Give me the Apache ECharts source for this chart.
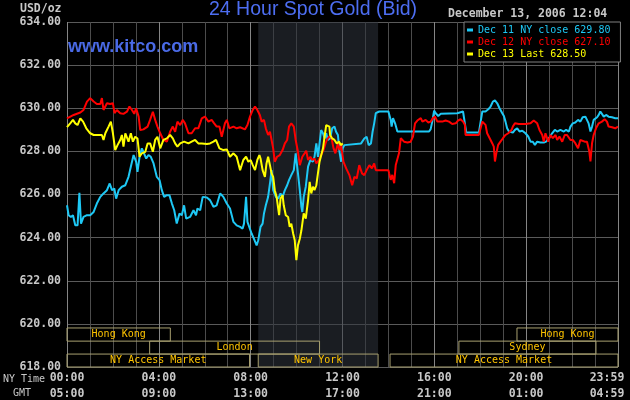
<!DOCTYPE html>
<html>
<head>
<meta charset="utf-8">
<script src="https://cdn.jsdelivr.net/npm/echarts@6/dist/echarts.min.js"></script>
<style>
html, body { margin: 0; padding: 0; background: #000; }
#main { width: 630px; height: 400px; }
</style>
</head>
<body>
<div id="main"></div>
<script>
// series names as shown in the legend box
var seriesNames = ['Dec 11 NY close 629.80', 'Dec 12 NY close 627.10', 'Dec 13 Last 628.50'];
var seriesColors = ['#1ec8f5', '#ff0000', '#ffff00'];

// [NY hour, price]
var dec11 = [[0.00,625.50],[0.07,625.04],[0.17,624.96],[0.26,625.04],[0.36,624.57],[0.46,624.57],[0.54,626.08],[0.61,624.65],[0.65,624.57],[0.72,624.96],[0.87,625.04],[1.01,625.04],[1.16,625.19],[1.30,625.58],[1.45,625.89],[1.59,626.05],[1.74,626.20],[1.86,626.51],[1.96,626.20],[2.06,626.28],[2.14,625.81],[2.25,626.20],[2.39,626.36],[2.54,626.43],[2.68,626.82],[2.78,627.29],[2.90,627.83],[3.01,627.52],[3.07,627.05],[3.16,627.75],[3.26,628.14],[3.33,628.06],[3.45,627.67],[3.55,627.83],[3.65,627.75],[3.77,627.44],[3.91,626.82],[4.03,626.67],[4.13,626.20],[4.23,625.89],[4.35,625.97],[4.46,625.97],[4.57,625.58],[4.67,625.27],[4.78,624.65],[4.90,625.12],[5.00,625.04],[5.10,625.50],[5.19,624.88],[5.36,624.96],[5.51,625.27],[5.62,625.04],[5.68,625.35],[5.80,625.27],[5.91,625.89],[6.09,625.86],[6.23,625.74],[6.38,625.43],[6.52,625.50],[6.67,626.05],[6.81,625.89],[6.96,625.58],[7.10,625.35],[7.25,624.73],[7.39,624.57],
  [7.54,624.50],[7.65,624.42],[7.71,624.65],[7.80,625.89],[7.86,624.73],[7.94,624.65],[8.04,624.19],[8.14,623.95],[8.26,623.64],[8.33,623.88],[8.43,624.50],[8.52,624.65],[8.58,625.12],[8.66,625.50],[8.76,625.89],[8.84,626.51],[8.91,627.13],[8.98,626.20],[9.10,625.89],[9.20,625.81],[9.30,626.05],[9.39,625.89],[9.49,626.20],[9.59,626.43],[9.67,626.67],[9.77,626.90],[9.88,627.13],[9.96,627.91],[10.06,626.98],[10.14,626.20],[10.21,625.43],[10.25,625.19],[10.31,625.89],[10.40,626.36],[10.50,627.29],[10.60,627.60],[10.71,627.52],[10.78,627.75],[10.86,628.37],[10.93,627.75],[11.00,627.67],[11.07,628.99],[11.15,628.84],[11.22,628.60],[11.29,628.84],[11.36,628.53],[11.46,628.60],[11.55,629.07],[11.65,629.15],[11.72,628.91],[11.80,628.76],[11.87,627.98],[11.94,627.52],[12.01,628.14],[12.08,628.29],[12.16,628.37],[12.81,628.37],[12.95,628.60],[13.05,628.68],[13.14,628.29],[13.24,628.37],[13.31,628.91],[13.38,629.30],[13.45,629.77],[13.60,629.85],[14.00,629.85],
  [14.10,629.46],[14.14,629.15],[14.20,629.54],[14.29,629.30],[14.39,628.92],[15.77,628.92],[15.84,629.03],[15.91,629.38],[15.99,629.89],[16.06,629.77],[16.17,629.64],[16.28,629.74],[17.00,629.77],[17.07,629.85],[17.25,629.85],[17.33,629.30],[17.39,628.87],[17.94,628.87],[18.01,628.92],[18.09,629.85],[18.23,629.85],[18.35,629.95],[18.45,630.08],[18.55,630.31],[18.64,630.36],[18.74,630.23],[18.84,630.00],[18.96,629.77],[19.03,629.64],[19.10,629.38],[19.17,629.07],[19.25,628.92],[19.32,629.00],[19.42,628.87],[19.51,629.00],[19.61,629.07],[19.71,628.92],[19.83,628.96],[19.97,628.84],[20.09,628.69],[20.19,628.45],[20.29,628.45],[20.38,628.30],[20.48,628.45],[20.62,628.41],[20.77,628.41],[20.87,628.45],[20.99,628.61],[21.13,628.84],[21.25,629.00],[21.35,628.92],[21.49,629.00],[21.64,628.92],[21.74,629.00],[21.86,628.92],[21.93,629.15],[22.03,629.30],[22.14,629.34],[22.26,629.46],[22.36,629.38],[22.46,629.58],[22.58,629.61],[22.65,629.61],[22.72,629.30],[22.80,628.92],[22.87,629.15],[22.94,629.46],[23.09,629.58],[23.16,629.69],[23.23,629.85],[23.30,629.77],[23.38,629.61],[23.48,629.69],[23.59,629.61],[23.74,629.58],[23.88,629.54],[24.00,629.54]];

var dec12 = [[0.00,629.53],[0.29,629.69],[0.58,629.80],[0.72,629.92],[0.87,630.31],[1.01,630.47],[1.16,630.31],[1.30,630.20],[1.45,630.20],[1.52,630.47],[1.59,629.92],[1.67,629.84],[1.74,630.23],[1.88,630.20],[2.00,630.23],[2.07,629.77],[2.17,629.92],[2.32,629.77],[2.46,629.74],[2.61,629.84],[2.72,630.08],[2.83,629.92],[2.93,629.74],[3.01,630.00],[3.12,629.61],[3.19,628.99],[3.33,629.02],[3.51,629.15],[3.62,629.46],[3.74,629.84],[3.84,629.46],[3.94,629.15],[4.06,628.84],[4.20,628.53],[4.35,628.45],[4.42,628.68],[4.49,628.91],[4.61,629.15],[4.71,628.91],[4.81,629.38],[4.93,629.22],[5.04,629.46],[5.14,629.30],[5.29,628.84],[5.43,628.84],[5.58,629.07],[5.72,629.07],[5.87,629.53],[6.01,629.61],[6.16,629.38],[6.30,629.46],[6.41,629.30],[6.52,629.15],[6.64,629.15],[6.74,628.68],[6.88,629.30],[6.96,629.46],[7.07,629.07],[7.25,629.15],[7.39,629.07],
  [7.54,629.12],[7.75,629.02],[7.86,629.22],[7.97,629.61],[8.09,629.92],[8.19,630.08],[8.29,629.92],[8.40,629.69],[8.48,629.38],[8.58,629.46],[8.66,629.07],[8.76,628.76],[8.84,628.91],[8.91,628.53],[8.98,628.14],[9.05,627.52],[9.15,627.75],[9.27,627.83],[9.39,628.06],[9.49,628.37],[9.59,628.53],[9.67,629.15],[9.77,629.30],[9.88,629.15],[9.96,628.53],[10.06,627.98],[10.14,627.36],[10.25,627.75],[10.35,627.91],[10.42,628.03],[10.50,627.60],[10.60,627.75],[10.68,627.60],[10.78,627.67],[10.86,627.44],[10.97,627.60],[11.07,627.83],[11.17,628.06],[11.26,628.37],[11.32,628.53],[11.41,628.68],[11.51,628.68],[11.61,628.14],[11.69,627.91],[11.80,628.37],[11.87,628.06],[11.94,628.29],[12.04,627.52],[12.16,627.21],[12.30,626.90],[12.42,626.43],[12.52,626.82],[12.62,626.74],[12.73,627.36],[12.85,626.98],[12.95,626.90],[13.05,627.13],[13.17,627.36],[13.28,627.21],[13.38,627.44],[13.45,627.13],[13.60,627.13],[13.89,627.13],[14.00,627.13],
  [14.03,626.99],[14.10,626.68],[14.17,626.91],[14.25,626.52],[14.32,627.37],[14.39,627.30],[14.46,627.91],[14.54,628.61],[14.61,628.69],[14.68,628.45],[14.83,628.41],[14.97,628.45],[15.07,628.69],[15.16,629.30],[15.26,629.43],[15.41,629.54],[15.48,629.38],[15.62,629.46],[15.74,629.34],[15.84,629.38],[15.94,629.54],[16.03,629.61],[16.13,629.38],[16.35,629.38],[16.49,629.43],[16.64,629.38],[16.78,629.27],[16.93,629.30],[17.03,629.43],[17.14,629.49],[17.25,629.38],[17.33,629.23],[17.36,628.76],[17.65,628.76],[17.94,628.76],[18.01,628.84],[18.09,629.38],[18.16,629.46],[18.23,629.23],[18.30,628.84],[18.38,628.76],[18.45,628.53],[18.52,628.38],[18.59,628.22],[18.64,627.53],[18.70,627.91],[18.78,628.30],[18.88,628.45],[18.99,628.61],[19.10,628.76],[19.22,628.84],[19.36,628.99],[19.42,629.15],[19.51,629.30],[19.68,629.27],[19.97,629.27],[20.19,629.30],[20.33,629.43],[20.41,629.46],[20.48,629.30],[20.58,628.99],[20.70,628.76],[20.77,628.45],[20.84,628.84],[20.96,628.45],[21.06,628.76],[21.16,628.61],[21.28,628.76],[21.35,628.53],[21.45,628.69],[21.57,628.45],[21.68,628.76],[21.78,628.76],[21.93,628.53],[22.03,628.53],[22.14,628.38],[22.26,628.15],[22.36,628.53],[22.43,628.61],[22.55,628.45],[22.65,628.45],[22.75,627.99],[22.80,627.53],[22.87,628.38],[22.94,628.76],[23.04,629.07],[23.16,629.30],[23.30,629.38],[23.42,629.49],[23.52,629.38],[23.59,629.15],[23.74,629.12],[23.88,629.07],[24.00,629.15]];

var dec13 = [[0.00,629.12],[0.14,629.30],[0.26,629.46],[0.36,629.30],[0.46,629.22],[0.58,629.53],[0.70,629.38],[0.84,629.07],[1.01,628.84],[1.16,628.76],[1.38,628.76],[1.52,628.76],[1.59,628.53],[1.67,628.84],[1.81,629.15],[1.91,629.38],[2.00,628.84],[2.10,628.06],[2.20,628.29],[2.32,628.53],[2.39,628.76],[2.46,628.22],[2.54,628.84],[2.61,628.91],[2.68,628.45],[2.78,628.84],[2.87,628.45],[2.97,628.68],[3.07,628.60],[3.16,627.75],[3.26,627.91],[3.41,627.98],[3.51,628.37],[3.62,628.37],[3.74,627.98],[3.84,628.53],[3.94,628.68],[4.06,628.14],[4.20,628.53],[4.35,628.60],[4.49,628.76],[4.61,628.60],[4.71,628.37],[4.81,628.22],[4.93,628.37],[5.10,628.45],[5.29,628.37],[5.43,628.45],[5.58,628.53],[5.72,628.37],[5.87,628.37],[6.09,628.34],[6.23,628.37],[6.38,628.45],[6.49,628.53],[6.64,628.14],[6.81,628.06],[6.96,628.09],[7.10,627.75],[7.25,627.91],[7.39,627.75],
  [7.54,627.13],[7.68,627.60],[7.80,627.75],[7.90,627.52],[8.00,627.60],[8.09,627.36],[8.19,627.13],[8.29,627.60],[8.38,627.83],[8.43,627.67],[8.52,627.13],[8.62,626.82],[8.69,627.44],[8.76,627.75],[8.84,627.36],[8.91,626.98],[8.98,626.82],[9.05,626.20],[9.13,625.89],[9.20,625.35],[9.24,625.04],[9.30,625.81],[9.39,625.97],[9.44,625.50],[9.53,625.04],[9.63,624.96],[9.70,624.50],[9.77,624.65],[9.85,624.19],[9.92,623.88],[9.99,622.95],[10.06,623.64],[10.14,623.95],[10.21,624.34],[10.25,624.65],[10.31,625.12],[10.40,624.88],[10.50,625.74],[10.57,626.59],[10.64,626.05],[10.71,626.36],[10.78,626.20],[10.86,626.43],[10.93,626.98],[11.00,627.52],[11.07,627.44],[11.15,628.14],[11.22,628.68],[11.29,629.22],[11.36,629.30],[11.43,629.15],[11.46,628.76],[11.55,628.60],[11.65,628.53],[11.75,628.37],[11.84,628.45],[11.94,628.29],[12.01,628.37]];

// trading sessions (NY hours) shown in the bottom strip
var sessionNames = ['Hong Kong', 'London', 'NY Access Market', 'New York', 'NY Access Market', 'Sydney', 'Hong Kong'];
var sessionStart = [0, 3.6, 0, 8.33, 14.07, 17.07, 19.6];
var sessionEnd = [4.5, 11.0, 7.95, 13.55, 24, 23.04, 24];
var sessionRow = [0, 1, 2, 2, 2, 1, 0];
var rowTop = [619.81, 619.2, 618.6];
var rowBottom = [619.2, 618.6, 618.0];

var nySession = [8.33, 13.55];

var mono = 'DejaVu Sans Mono';
var gray = '#c8c8c8';

function hh(n) {
    return (n < 10 ? '0' : '') + n + ':00';
}

var chart = echarts.init(document.getElementById('main'));

var boxes = sessionNames.map(function (name, i) {
    return [
        { name: name, xAxis: sessionStart[i], yAxis: rowTop[sessionRow[i]] },
        { xAxis: sessionEnd[i], yAxis: rowBottom[sessionRow[i]] }
    ];
});

var lines = [dec11, dec12, dec13].map(function (d, i) {
    return {
        name: seriesNames[i],
        type: 'line',
        data: d,
        showSymbol: false,
        symbol: 'none',
        z: 2,
        lineStyle: { color: seriesColors[i], width: 2 },
        itemStyle: { color: seriesColors[i] }
    };
});

var option = {
    backgroundColor: '#000',
    animation: false,
    title: {
        text: '24 Hour Spot Gold (Bid)',
        left: 209,
        top: 0,
        padding: 0,
        textStyle: { color: '#4d6ef2', fontFamily: 'Liberation Sans', fontSize: 19.5, fontWeight: 'normal' }
    },
    legend: {
        orient: 'vertical',
        left: 464,
        top: 22,
        padding: [2, 10, 2, 3],
        itemGap: 0,
        itemWidth: 6,
        itemHeight: 3,
        icon: 'rect',
        backgroundColor: '#000',
        borderColor: '#808080',
        borderWidth: 1,
        selectedMode: false,
        data: seriesNames.map(function (n, i) {
            return { name: n, textStyle: { color: seriesColors[i] } };
        }),
        textStyle: { fontFamily: mono, fontSize: 10, lineHeight: 12 }
    },
    grid: { left: 67, right: 12, top: 22, bottom: 33, containLabel: false, outerBoundsMode: 'none' },
    xAxis: {
        type: 'value',
        min: 0,
        max: 24,
        interval: 1,
        z: 1,
        axisLine: { show: false },
        axisTick: { show: false },
        splitLine: { lineStyle: { color: ['#858585', '#4c4c4c', '#4c4c4c', '#4c4c4c'], width: 1 } },
        axisLabel: {
            margin: 3,
            color: gray,
            fontFamily: mono,
            fontWeight: 'bold',
            fontSize: 11.5,
            lineHeight: 16,
            formatter: function (v) {
                if (v === 24) return '{last|23:59}\n{last|04:59}';
                if (v % 4) return '';
                return hh(v) + '\n' + hh((v + 5) % 24);
            },
            rich: {
                last: { padding: [0, 22, 0, 0], color: gray, fontFamily: mono, fontWeight: 'bold', fontSize: 11.5, lineHeight: 16 }
            }
        }
    },
    yAxis: {
        type: 'value',
        min: 618,
        max: 634,
        interval: 2,
        z: 1,
        axisLine: { show: false },
        axisTick: { show: false },
        splitLine: { lineStyle: { color: '#5a5a5a', width: 1 } },
        axisLabel: {
            margin: 6,
            color: gray,
            fontFamily: mono,
            fontWeight: 'bold',
            fontSize: 11.5,
            formatter: function (v) { return v.toFixed(2); }
        }
    },
    graphic: [
        { type: 'text', left: 20, top: 3, style: { text: 'USD/oz', fill: gray, font: 'bold 11.5px "DejaVu Sans Mono"' } },
        { type: 'text', left: 68, top: 38, style: { text: 'www.kitco.com', fill: '#4a6ae6', font: 'bold 18px "Liberation Sans"' } },
        { type: 'text', left: 448, top: 8, style: { text: 'December 13, 2006 12:04', fill: gray, font: 'bold 11.5px "DejaVu Sans Mono"' } },
        { type: 'text', left: 3, top: 374, style: { text: 'NY Time', fill: gray, font: '10px "DejaVu Sans Mono"' } },
        { type: 'text', left: 13, top: 388, style: { text: 'GMT', fill: gray, font: '10px "DejaVu Sans Mono"' } }
    ],
    series: [
        {
            name: 'ny-shade',
            type: 'line',
            data: [],
            z: 0,
            markArea: {
                silent: true,
                itemStyle: { color: 'rgba(48,52,62,0.55)' },
                data: [[{ xAxis: nySession[0], yAxis: 634 }, { xAxis: nySession[1], yAxis: 618 }]]
            }
        },
        lines[0],
        lines[1],
        lines[2],
        {
            name: 'sessions',
            type: 'line',
            data: [],
            z: 3,
            markArea: {
                silent: true,
                itemStyle: { color: 'rgba(0,0,0,0)', borderColor: '#a8a070', borderWidth: 1 },
                label: { show: true, position: 'inside', color: '#ffc400', fontFamily: mono, fontSize: 10 },
                data: boxes
            }
        }
    ]
};

chart.setOption(option);
</script>
</body>
</html>
